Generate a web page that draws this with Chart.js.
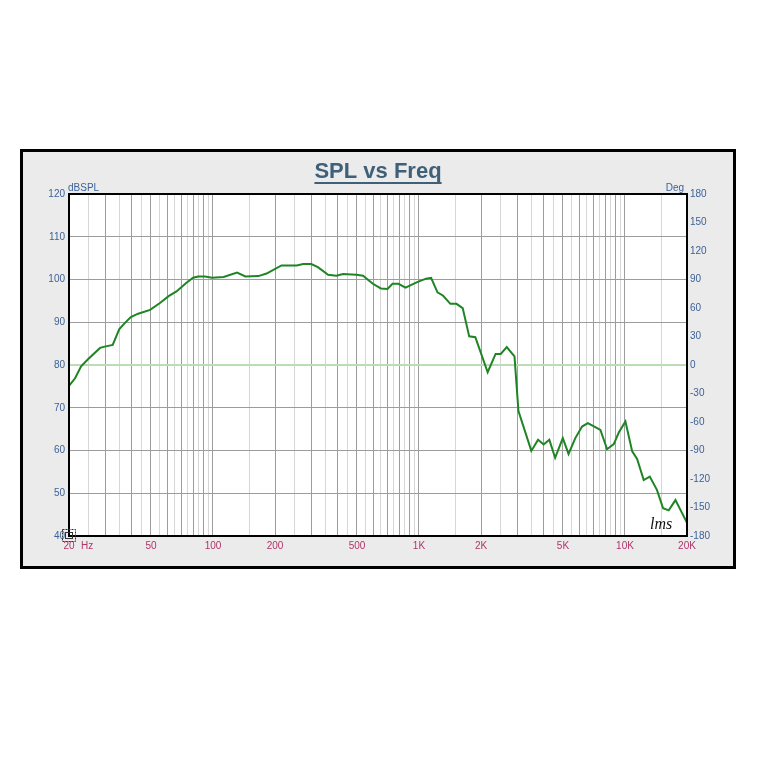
<!DOCTYPE html>
<html>
<head>
<meta charset="utf-8">
<script src="https://cdn.jsdelivr.net/npm/chart.js@4.4.1/dist/chart.umd.min.js"></script>
<style>
  html, body { margin: 0; padding: 0; background: #fff; }
  canvas { display: block; }
</style>
</head>
<body>
<canvas id="chart" width="764" height="762"></canvas>
<script>
const freqHz = [
  20, 21.4, 22.9, 24.8, 28.3, 29.8, 32.6, 35.1, 37.3, 39.9,
  43.3, 49.5, 55.3, 60.9, 66.5, 74.1, 80.1, 84.8, 91.5, 99,
  112.6, 130.8, 143.6, 166, 182, 215, 255, 274, 300, 323,
  362, 397, 428, 497, 535, 597, 653, 703, 744, 795,
  860, 980, 1082, 1145, 1230, 1310, 1420, 1520, 1630, 1753,
  1877, 2155, 2354, 2494, 2667, 2908, 3040, 3510, 3784, 4030,
  4292, 4580, 4990, 5320, 5740, 6190, 6598, 7103, 7598, 8188,
  8820, 9331, 10050, 10840, 11450, 12330, 13190, 14290, 15310, 16300,
  17580, 18960, 20000
]
const splDb = [
  75.1, 76.9, 79.7, 81.4, 84.0, 84.3, 84.7, 88.4, 89.8, 91.2,
  92.0, 92.9, 94.5, 96.1, 97.2, 99.2, 100.4, 100.7, 100.7, 100.4,
  100.6, 101.6, 100.7, 100.8, 101.4, 103.3, 103.3, 103.6, 103.6, 102.9,
  101.1, 100.9, 101.3, 101.1, 100.9, 99.0, 97.9, 97.8, 99.0, 99.0,
  98.1, 99.4, 100.2, 100.4, 97.0, 96.2, 94.3, 94.3, 93.3, 86.7,
  86.5, 78.3, 82.6, 82.6, 84.2, 82.0, 69.2, 59.9, 62.5, 61.4,
  62.5, 58.3, 62.9, 59.2, 62.9, 65.6, 66.4, 65.6, 64.8, 60.3,
  61.5, 64.2, 66.8, 59.8, 58.0, 53.1, 53.9, 50.8, 46.5, 46.0,
  48.4, 45.3, 43.1
]
const freqTicks = [20, 50, 100, 200, 500, 1000, 2000, 5000, 10000, 20000]
const freqTickLabels = ['20', '50', '100', '200', '500', '1K', '2K', '5K', '10K', '20K']

const BLUE = '#3d6297'
const RED = '#b3336b'

// grid positions: every half step of each decade
const gridValues = () => {
  const vals = []
  for (let dec = 10; dec <= 10000; dec *= 10) {
    for (let m = 1; m < 10; m += 0.5) {
      const v = Math.round(m * dec * 100) / 100
      if (v >= 20 && v <= 20000) vals.push(v)
    }
  }
  return vals
}

const frame = {
  id: 'frame',
  beforeDraw(chart) {
    const { ctx, chartArea: a } = chart
    ctx.save()
    ctx.fillStyle = '#fff'
    ctx.fillRect(0, 0, chart.width, chart.height)
    ctx.fillStyle = '#ebebeb'
    ctx.fillRect(21, 150, 714, 418)
    ctx.strokeStyle = '#000'
    ctx.lineWidth = 3
    ctx.strokeRect(21.5, 150.5, 713, 417)
    ctx.fillStyle = '#fff'
    ctx.fillRect(a.left, a.top, a.right - a.left, a.bottom - a.top)
    ctx.restore()
  },
  afterDraw(chart) {
    const { ctx, chartArea: a } = chart
    ctx.save()
    ctx.strokeStyle = '#000'
    ctx.lineWidth = 2
    ctx.strokeRect(a.left, a.top, a.right - a.left, a.bottom - a.top)

    // title
    ctx.font = 'bold 22px "Liberation Sans", Arial, sans-serif'
    ctx.fillStyle = '#3e6079'
    ctx.textAlign = 'center'
    ctx.textBaseline = 'alphabetic'
    const title = 'SPL vs Freq'
    ctx.fillText(title, 378, 178)
    const w = ctx.measureText(title).width
    ctx.fillRect(378 - w / 2, 182, w, 2)

    // axis captions
    ctx.font = '10px "Liberation Sans", Arial, sans-serif'
    ctx.fillStyle = BLUE
    ctx.textBaseline = 'middle'
    ctx.textAlign = 'left'
    ctx.fillText('dBSPL', 68, 188)
    ctx.textAlign = 'right'
    ctx.fillText('Deg', 684, 188)
    ctx.fillStyle = RED
    ctx.textAlign = 'left'
    ctx.fillText('Hz', 81, 546)

    // cursor marker in the corner
    ctx.strokeStyle = '#333'
    ctx.lineWidth = 1
    ctx.setLineDash([2, 1])
    ctx.strokeRect(62.5, 529.5, 13, 12)
    ctx.setLineDash([])
    ctx.strokeRect(65.5, 532.5, 7, 6)

    // signature
    ctx.fillStyle = '#111'
    ctx.font = 'italic 16px "Liberation Serif", serif'
    ctx.textAlign = 'left'
    ctx.textBaseline = 'alphabetic'
    ctx.fillText('lms', 650, 529)
    ctx.restore()
  }
}

const chart = new Chart('chart', {
  type: 'line',
  data: {
    datasets: [{
      label: 'SPL',
      data: freqHz.map((f, i) => ({ x: f, y: splDb[i] })),
      borderColor: '#1f8424',
      borderWidth: 2,
      pointRadius: 0,
      tension: 0,
      yAxisID: 'y'
    }]
  },
  plugins: [frame],
  options: {
    responsive: false,
    animation: false,
    layout: { padding: { top: 194, bottom: 206, left: 0, right: 0 } },
    plugins: { legend: { display: false }, tooltip: { enabled: false } },
    scales: {
      x: {
        type: 'logarithmic',
        min: 20,
        max: 20000,
        afterBuildTicks: (scale) => { scale.ticks = gridValues().map(v => ({ value: v })) },
        afterFit: (scale) => { scale.height = 20 },
        border: { color: '#000', width: 2 },
        grid: {
          drawTicks: false,
          color: (c) => {
            const v = c.tick.value
            const m = v / Math.pow(10, Math.floor(Math.log10(v) + 1e-9))
            return Math.abs(m - Math.round(m)) < 1e-6 ? '#9c9c9c' : '#d6d6d6'
          }
        },
        ticks: {
          autoSkip: false,
          maxRotation: 0,
          padding: 4,
          color: RED,
          font: { size: 10, family: '"Liberation Sans", Arial, sans-serif' },
          callback: (v) => {
            const i = freqTicks.indexOf(v)
            return i >= 0 ? freqTickLabels[i] : ''
          }
        }
      },
      y: {
        position: 'left',
        min: 40,
        max: 120,
        afterFit: (scale) => { scale.width = 69 },
        border: { color: '#000', width: 2 },
        grid: { drawTicks: false, color: '#9c9c9c' },
        ticks: {
          stepSize: 10,
          padding: 4,
          color: BLUE,
          font: { size: 10, family: '"Liberation Sans", Arial, sans-serif' }
        }
      },
      y2: {
        position: 'right',
        min: -180,
        max: 180,
        afterFit: (scale) => { scale.width = 77 },
        border: { color: '#000', width: 2 },
        grid: {
          drawTicks: false,
          lineWidth: 2,
          color: (c) => c.tick.value === 0 ? '#bcdcb5' : 'rgba(0,0,0,0)'
        },
        ticks: {
          stepSize: 30,
          padding: 3,
          color: BLUE,
          font: { size: 10, family: '"Liberation Sans", Arial, sans-serif' }
        }
      }
    }
  }
})
</script>
</body>
</html>
